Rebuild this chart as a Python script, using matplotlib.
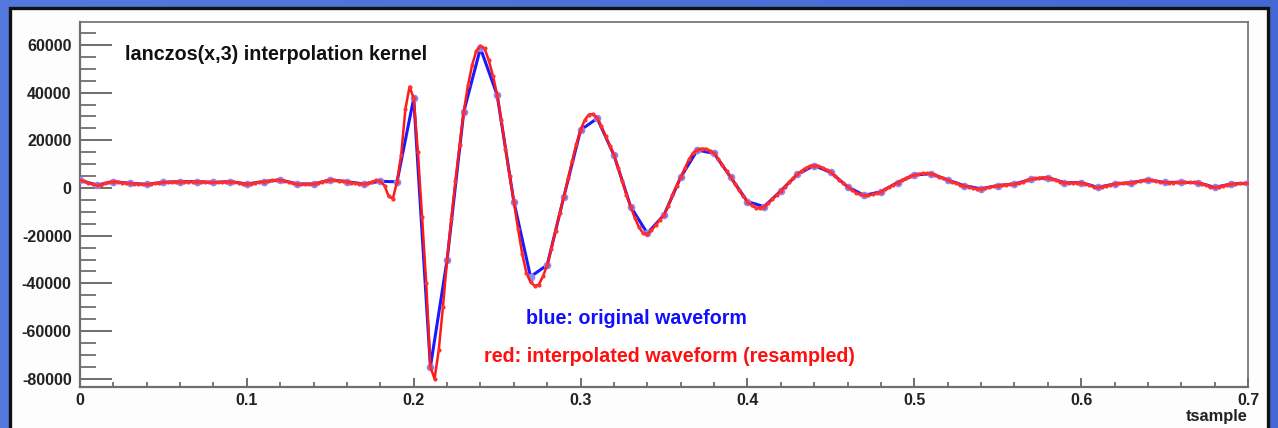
import numpy as np
import matplotlib
matplotlib.use("Agg")
import matplotlib.pyplot as plt
from matplotlib.patches import Rectangle
from matplotlib.ticker import MultipleLocator
from matplotlib.colors import LinearSegmentedColormap

# ---------------- data ----------------
blue_step = 0.01
blue_values = [
    3300, 1200, 2650, 1950, 1550, 2350, 2650, 2650, 2350, 2650,
    1700, 2650, 3350, 1700, 1700, 3350, 2650, 1700, 2800, 2600,
    37600, -75000, -30200, 32000, 58600, 39000, -5700, -37200, -32300, -3600,
    24300, 29200, 13800, -7800, -19000, -11300, 4470, 15900, 14500, 4470,
    -5700, -7800, -1200, 5800, 9400, 6500, 550, -3100, -1550, 2300,
    5450, 6000, 3350, 1000, -350, 1000, 1680, 3640, 4330, 2240,
    2240, 280, 1680, 2240, 3350, 2370, 2370, 2240, 280, 1680,
    1960,
]

red_step = 0.0025
red_values = [
    3300, 2800, 2100, 1500, 1200, 1400, 1900, 2400, 2650, 2550,
    2300, 2100, 1950, 1800, 1650, 1550, 1550, 1700, 1950, 2200,
    2350, 2500, 2600, 2650, 2650, 2650, 2650, 2650, 2650, 2600,
    2500, 2400, 2350, 2400, 2500, 2600, 2650, 2500, 2200, 1850,
    1700, 1850, 2200, 2450, 2650, 2900, 3150, 3350, 3350, 3000,
    2500, 2000, 1700, 1550, 1500, 1550, 1700, 2100, 2600, 3100,
    3350, 3300, 3100, 2900, 2650, 2300, 2000, 1800, 1700, 2000,
    2600, 3200, 2800, 1000, -3500, -4500, 2600, 14000, 33000, 42500,
    37600, 15000, -12000, -40000, -75000, -80000, -68000, -50000, -30200, -13000,
    3000, 18000, 32000, 43000, 51500, 57500, 59500, 58500, 53500, 47000,
    39000, 28500, 16500, 5000, -5700, -17000, -27500, -35500, -39500, -41000,
    -40500, -37000, -32300, -25500, -18000, -10500, -3600, 4000, 11500, 18500,
    24300, 28500, 30800, 31000, 29200, 25800, 21800, 17800, 13800, 8500,
    2800, -2800, -7800, -12500, -16500, -19000, -19200, -17800, -15500, -13300,
    -11300, -7500, -3000, 1000, 4470, 8300, 12000, 14800, 15900, 16500,
    16400, 15700, 14500, 12300, 9700, 7000, 4470, 1700, -1000, -3500,
    -5700, -7300, -8300, -8300, -7800, -6400, -4700, -2900, -1200, 600,
    2500, 4200, 5800, 7200, 8400, 9200, 9400, 9200, 8500, 7600,
    6500, 5000, 3400, 1900, 550, -800, -1900, -2700, -3100, -3100,
    -2700, -2200, -1550, -600, 400, 1400, 2300, 3200, 4100, 4900,
    5450, 5900, 6100, 6100, 6000, 5500, 4800, 4000, 3350, 2600,
    1900, 1400, 1000, 500, 0, -300, -350, -100, 300, 700,
    1000, 1200, 1400, 1550, 1680, 2100, 2650, 3200, 3640, 4000,
    4300, 4400, 4330, 3900, 3300, 2700, 2240, 2100, 2200, 2300,
    2240, 1800, 1100, 500, 280, 500, 900, 1300, 1680, 1900,
    2000, 2100, 2240, 2550, 2900, 3200, 3350, 3200, 2850, 2550,
    2370, 2300, 2300, 2350, 2370, 2400, 2400, 2350, 2240, 1800,
    1100, 500, 280, 500, 950, 1350, 1680, 1850, 1900, 1950,
    1960,
]

x_ticks = [0, 0.1, 0.2, 0.3, 0.4, 0.5, 0.6, 0.7]
x_tick_labels = ["0", "0.1", "0.2", "0.3", "0.4", "0.5", "0.6", "0.7"]
y_ticks = [-80000, -60000, -40000, -20000, 0, 20000, 40000, 60000]
y_tick_labels = ["-80000", "-60000", "-40000", "-20000", "0", "20000", "40000", "60000"]

title_text = "lanczos(x,3) interpolation kernel"
blue_text = "blue: original waveform"
red_text = "red: interpolated waveform (resampled)"
x_label = "tsample"

blue_t = np.arange(len(blue_values)) * blue_step
red_t = np.arange(len(red_values)) * red_step

# ---------------- figure ----------------
W, H = 1278, 428
fig = plt.figure(figsize=(W / 100, H / 100), dpi=100)
fig.patch.set_facecolor("#4f74da")

# background gradient
bg = fig.add_axes([0, 0, 1, 1])
grad = np.linspace(0, 1, 256)[None, :] * np.ones((16, 1))
cmap = LinearSegmentedColormap.from_list("bg", ["#5379dd", "#4468d3"])
bg.imshow(grad, aspect="auto", cmap=cmap, extent=[0, 1, 0, 1])
bg.set_axis_off()

# white pad with dark border
pad = Rectangle((10 / W, -0.02), (1268 - 10) / W, 1 - 8 / H + 0.02,
                transform=fig.transFigure, facecolor="#fdfdfd",
                edgecolor="#111111", linewidth=2.4, zorder=1)
fig.patches.append(pad)

ax = fig.add_axes([80 / W, 1 - 387 / H, (1248 - 80) / W, (387 - 22) / H])
ax.set_facecolor("#ffffff")
ax.set_zorder(2)

ax.plot(blue_t, blue_values, color="#1a1aff", lw=2.2, marker="o", ms=4.5,
        mfc="#8a8aff", mec="#8a8aff", zorder=3)
ax.plot(red_t, red_values, color="#ff1a1a", lw=1.8, marker="o", ms=2.0,
        mfc="#ff3030", mec="#ff3030", zorder=4)

ax.set_xlim(0, 0.7)
ax.set_ylim(-83440, 69600)

ax.set_xticks(x_ticks)
ax.set_xticklabels(x_tick_labels)
ax.set_yticks(y_ticks)
ax.set_yticklabels(y_tick_labels)
ax.xaxis.set_minor_locator(MultipleLocator(0.02))
ax.yaxis.set_minor_locator(MultipleLocator(5000))

spine_col = "#6e6e6e"
for s in ax.spines.values():
    s.set_color(spine_col)
    s.set_linewidth(1.6)
ax.spines["top"].set_linewidth(1.2)
ax.spines["right"].set_linewidth(1.2)

font = ["Liberation Sans", "DejaVu Sans"]
ax.tick_params(axis="y", which="major", direction="in", length=23, width=1.4,
               color=spine_col, pad=6, labelsize=11.5, labelcolor="#222222")
ax.tick_params(axis="y", which="minor", direction="in", length=11.5, width=1.3,
               color=spine_col)
ax.tick_params(axis="x", which="major", direction="in", length=6.5, width=1.4,
               color=spine_col, pad=4, labelsize=11.5, labelcolor="#222222")
ax.tick_params(axis="x", which="minor", direction="in", length=3.6, width=1.3,
               color=spine_col)
for lab in ax.get_xticklabels() + ax.get_yticklabels():
    lab.set_fontfamily(font)
    lab.set_fontweight("bold")

fig.text(125 / W, 1 - 54 / H, title_text, ha="left", va="center",
         fontsize=14.2, fontweight="bold", family=font, color="#111111", zorder=5)
fig.text(636 / W, 1 - 318 / H, blue_text, ha="center", va="center",
         fontsize=14.1, fontweight="bold", family=font, color="#1010ff", zorder=5)
fig.text(669 / W, 1 - 357 / H, red_text, ha="center", va="center",
         fontsize=14.2, fontweight="bold", family=font, color="#ff1010", zorder=5)
fig.text(1248 / W, 1 - 416 / H, x_label, ha="right", va="center",
         fontsize=11.8, fontweight="bold", family=font, color="#222222", zorder=5)

fig.savefig("out.png", dpi=100, facecolor=fig.get_facecolor())
